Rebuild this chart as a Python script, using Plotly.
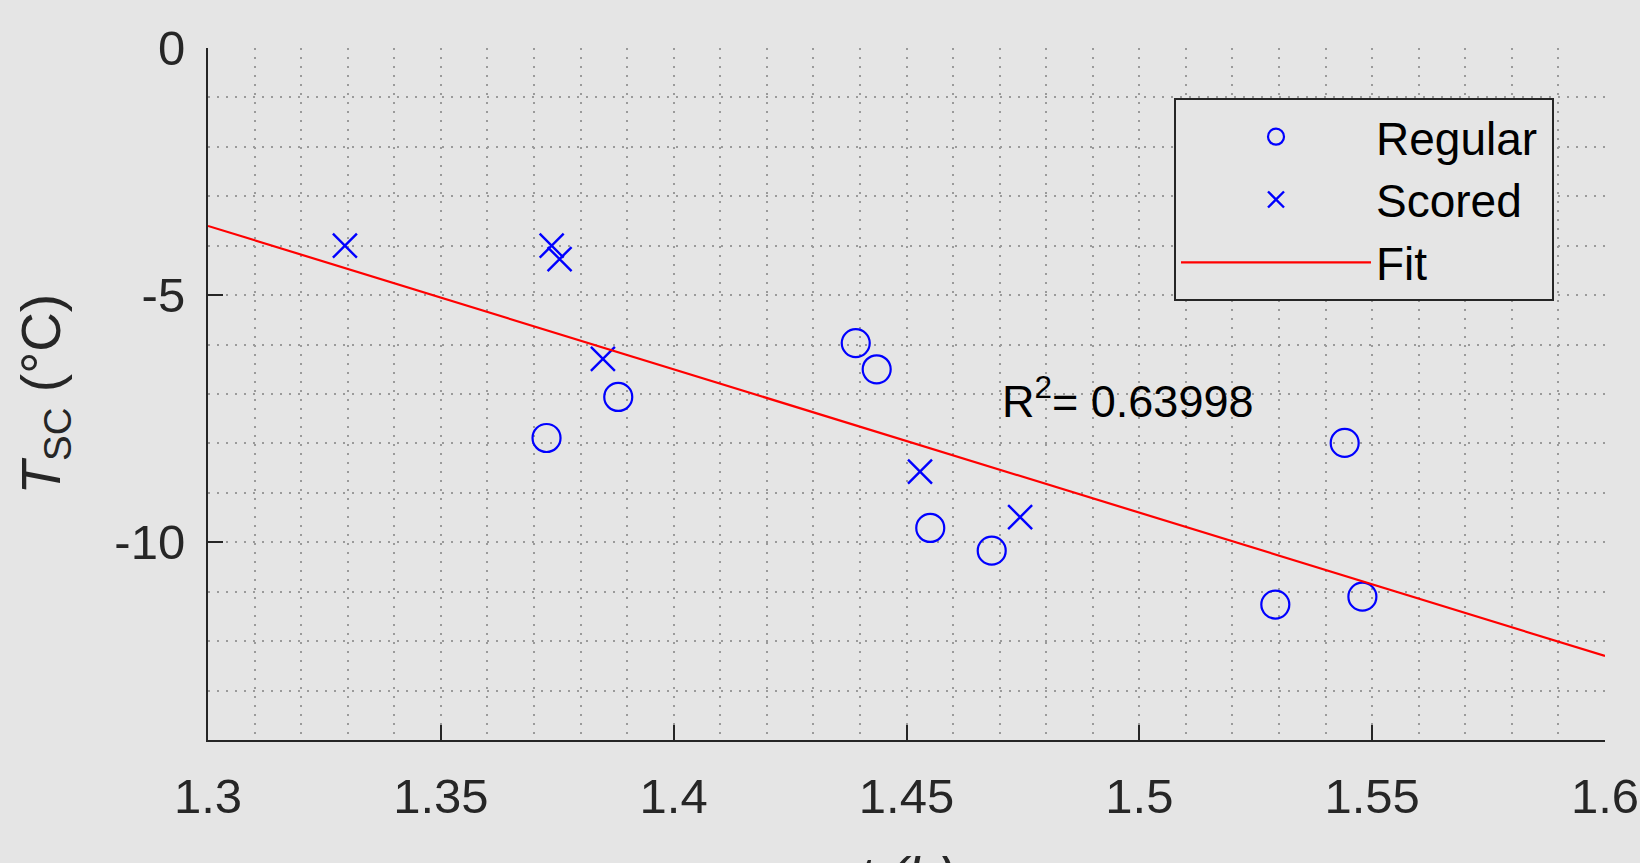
import plotly.graph_objects as go

# ---- data ----
regular_t = [1.3727, 1.3881, 1.4391, 1.4436, 1.4551, 1.4683, 1.5292, 1.5441, 1.5479]
regular_T = [-7.89, -7.06, -5.97, -6.50, -9.71, -10.17, -11.26, -7.99, -11.10]

scored_t = [1.3294, 1.3738, 1.3755, 1.3848, 1.4529, 1.4744]
scored_T = [-4.00, -4.00, -4.27, -6.29, -8.57, -9.49]

fit_t = [1.3, 1.6]
fit_T = [-3.60, -12.30]

r2_text = "R<sup>2</sup>= 0.63998"
x_ticks = [1.3, 1.35, 1.4, 1.45, 1.5, 1.55, 1.6]
x_labels = ["1.3", "1.35", "1.4", "1.45", "1.5", "1.55", "1.6"]
y_ticks = [0, -5, -10]
y_labels = ["0", "-5", "-10"]

FONT = "Liberation Sans, Arial, Helvetica, sans-serif"
BG = "#e5e5e5"
AX = "#262626"
GRID = "#9a9a9a"

fig = go.Figure()
fig.add_trace(go.Scatter(
    x=regular_t, y=regular_T, mode="markers", name="Regular\u2009",
    marker=dict(symbol="circle-open", size=28, color="#0000ff",
                line=dict(width=2.2, color="#0000ff")),
))
fig.add_trace(go.Scatter(
    x=scored_t, y=scored_T, mode="markers", name="Scored",
    marker=dict(symbol="x-thin-open", size=24, color="#0000ff",
                line=dict(width=2.4, color="#0000ff")),
))
fig.add_trace(go.Scatter(
    x=fit_t, y=fit_T, mode="lines", name="Fit",
    line=dict(color="#ff0000", width=2.2),
))

grid_common = dict(gridcolor=GRID, gridwidth=1.5, griddash="2px,7px")

fig.update_layout(
    width=1640, height=863,
    paper_bgcolor=BG, plot_bgcolor=BG,
    margin=dict(l=208, r=35, t=48, b=123, autoexpand=False),
    font=dict(family=FONT, color=AX, size=49),
    showlegend=True,
    legend=dict(
        x=0.9635, y=0.9273, xanchor="right", yanchor="top",
        bgcolor=BG, bordercolor=AX, borderwidth=2,
        font=dict(family=FONT, size=46, color="#000000"),
        itemwidth=190, tracegroupgap=0,
    ),
    xaxis=dict(
        range=[1.3, 1.6], tickvals=x_ticks, ticktext=x_labels,
        showline=True, linecolor=AX, linewidth=2, mirror=False,
        ticks="inside", ticklen=15, tickwidth=2, tickcolor=AX,
        tickfont=dict(size=49, color=AX, family=FONT),
        ticklabelstandoff=12,
        showgrid=True, zeroline=False,
        minor=dict(dtick=0.01, showgrid=True, ticks="", **grid_common),
        **grid_common,
    ),
    yaxis=dict(
        range=[-14, 0], tickvals=y_ticks, ticktext=y_labels,
        showline=True, linecolor=AX, linewidth=2, mirror=False,
        ticks="inside", ticklen=15, tickwidth=2, tickcolor=AX,
        tickfont=dict(size=49, color=AX, family=FONT),
        ticklabelstandoff=11,
        showgrid=True, zeroline=False,
        minor=dict(dtick=1, showgrid=True, ticks="", **grid_common),
        **grid_common,
    ),
    annotations=[
        dict(text=r2_text, x=1.4700, y=-7.08, xref="x", yref="y",
             xanchor="left", yanchor="middle", showarrow=False,
             font=dict(family=FONT, size=45, color="#000000")),
        dict(text="<i>T</i><sub>SC</sub> (°C)", x=-0.117, y=0.5,
             xref="paper", yref="paper", textangle=-90,
             xanchor="center", yanchor="middle", showarrow=False,
             font=dict(family=FONT, size=55, color=AX)),
        dict(text="<i>t (h)</i>", x=0.5, y=0, xref="paper", yref="paper",
             xanchor="center", yanchor="top", yshift=-104, showarrow=False,
             font=dict(family=FONT, size=55, color=AX)),
    ],
)

fig.write_html("out.html")
